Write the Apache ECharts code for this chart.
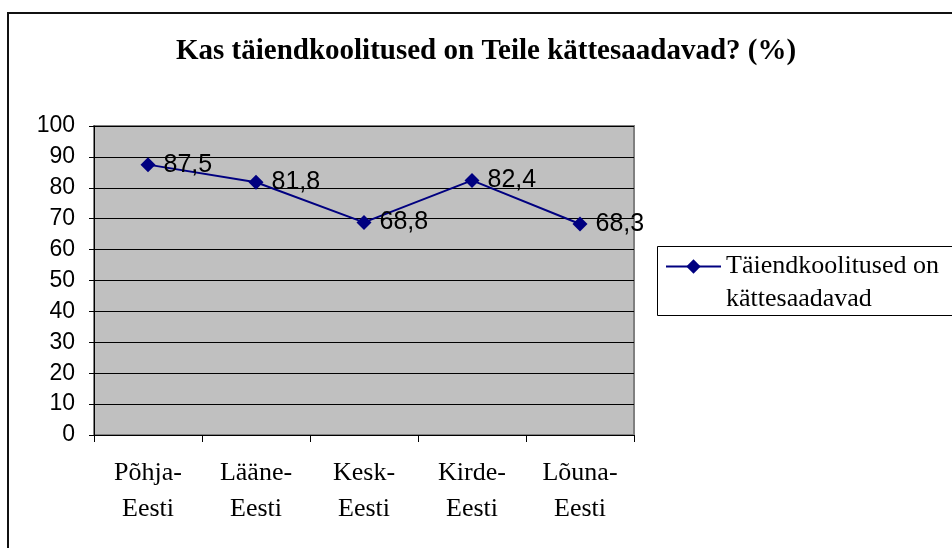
<!DOCTYPE html>
<html>
<head>
<meta charset="utf-8">
<script src="https://cdn.jsdelivr.net/npm/echarts@6/dist/echarts.min.js"></script>
<style>html,body{margin:0;padding:0;background:#fff}#c{width:952px;height:548px}</style>
</head>
<body>
<div id="c"></div>
<script>
const titleText = 'Kas täiendkoolitused on Teile kättesaadavad? (%)';
const categories = ['Põhja-\nEesti', 'Lääne-\nEesti', 'Kesk-\nEesti', 'Kirde-\nEesti', 'Lõuna-\nEesti'];
const seriesName = 'Täiendkoolitused on\nkättesaadavad';
const values = [87.5, 81.8, 68.8, 82.4, 68.3];
const yMin = 0, yMax = 100, yStep = 10;

const chart = echarts.init(document.getElementById('c'), null, {renderer: 'canvas'});
chart.setOption({
  animation: false,
  backgroundColor: '#fff',
  title: {
    text: titleText, top: 32, left: 171,
    textStyle: {fontFamily: 'Liberation Serif', fontWeight: 'bold', fontSize: 29, color: '#000'}
  },
  grid: {left: 94, right: 318, top: 126, bottom: 113, show: true,
    backgroundColor: '#C0C0C0', borderColor: '#808080', borderWidth: 2},
  legend: {
    left: 665, top: 217, padding: 0,
    itemWidth: 55, itemHeight: 18,
    formatter: name => '\n' + name,
    textStyle: {fontFamily: 'Liberation Serif', fontSize: 26, lineHeight: 33, color: '#000'},
    data: [seriesName]
  },
  graphic: [
    {type: 'rect', shape: {x: 8, y: 13, width: 1000, height: 600}, style: {fill: 'none', stroke: '#111', lineWidth: 2}, silent: true},
    {type: 'rect', shape: {x: 657.5, y: 246.5, width: 400, height: 69}, style: {fill: 'none', stroke: '#000', lineWidth: 1}, silent: true}
  ],
  xAxis: {
    type: 'category', data: categories, boundaryGap: true,
    axisLine: {lineStyle: {color: '#000', width: 1}},
    axisTick: {show: true, length: 7, alignWithLabel: false, lineStyle: {color: '#000'}},
    axisLabel: {fontFamily: 'Liberation Serif', fontSize: 26, lineHeight: 36, color: '#000', margin: 20}
  },
  yAxis: {
    type: 'value', min: yMin, max: yMax, interval: yStep,
    axisLine: {show: true, lineStyle: {color: '#000', width: 1}},
    axisTick: {show: true, length: 5, lineStyle: {color: '#000'}},
    axisLabel: {fontFamily: 'Liberation Sans', fontSize: 23, color: '#000', margin: 19},
    splitLine: {show: true, lineStyle: {color: '#000', width: 1}}
  },
  series: [{
    name: seriesName, type: 'line', data: values,
    symbol: 'diamond', symbolSize: 15,
    lineStyle: {color: '#000080', width: 2},
    itemStyle: {color: '#000080'},
    label: {show: true, position: 'right', distance: 8,
      fontFamily: 'Liberation Sans', fontSize: 25, color: '#000',
      formatter: p => String(p.value).replace('.', ',')}
  }]
});
</script>
</body>
</html>
